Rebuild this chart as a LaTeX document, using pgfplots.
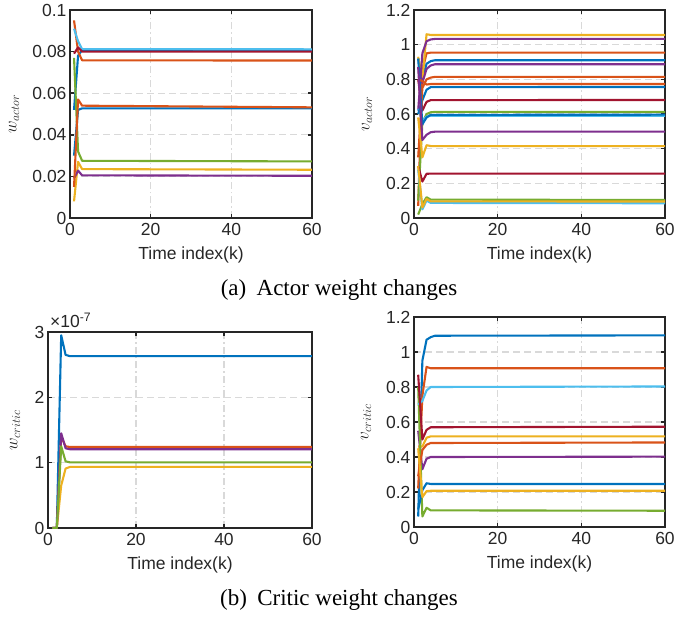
\documentclass[border=0pt]{standalone}
\usepackage{pgfplots}
\pgfplotsset{compat=1.18}
\usepackage{fontspec}
\setmainfont{Liberation Serif}
\newfontfamily\helv{Liberation Sans}

\definecolor{mblue}{rgb}{0,0.447,0.741}
\definecolor{morange}{rgb}{0.85,0.325,0.098}
\definecolor{myellow}{rgb}{0.929,0.694,0.125}
\definecolor{mpurple}{rgb}{0.494,0.184,0.556}
\definecolor{mgreen}{rgb}{0.466,0.674,0.188}
\definecolor{mcyan}{rgb}{0.301,0.745,0.933}
\definecolor{mred}{rgb}{0.635,0.078,0.184}
\definecolor{axgray}{rgb}{0.15,0.15,0.15}

\pgfplotsset{
  mat/.style={
    scale only axis, anchor=south west,
    xmin=0, xmax=60, ymin=0, xtick={0,20,40,60},
    axis line style={axgray, line width=2.4pt},
    tick align=inside, major tick length=4pt,
    tick style={axgray, line width=1.5pt},
    grid=major,
    major grid style={gray!30, line width=1.3pt},
    y grid style={dash pattern=on 7pt off 4pt},
    x grid style={dash pattern=on 7pt off 3pt on 1.5pt off 3pt},
    ticklabel style={font=\helv\fontsize{17.5}{17.5}\selectfont, text=axgray},
    xticklabel style={yshift=-2pt},
    /pgf/number format/assume math mode=true,
    yticklabel style={/pgf/number format/fixed, /pgf/number format/precision=2},
    scaled y ticks=false,
    xlabel={\helv Time index(k)},
    xlabel style={font=\fontsize{17.5}{17.5}\selectfont, text=axgray,
      at={(rel axis cs:0.5,0)}, anchor=north, yshift=-25pt},
    ylabel style={font=\fontsize{17}{17}\selectfont, text=axgray,
      at={(rel axis cs:0,0.5)}, anchor=center},
    every axis plot/.append style={line width=2.1pt, line join=round},
  }
}

\begin{document}
\begin{tikzpicture}
\useasboundingbox (0,0) rectangle (674pt,616pt);

% (a) left: w_actor
\begin{axis}[mat, at={(70pt,398pt)}, width=242pt, height=208pt,
    ymax=0.1, ytick={0,0.02,0.04,0.06,0.08,0.1}, ylabel={$w_{actor}$},
    ylabel style={yshift=56pt}]
\addplot[mblue]   coordinates {(1,0.052)(2,0.078)(3,0.0808)(60,0.0808)};
\addplot[morange] coordinates {(1,0.095)(2,0.080)(3,0.0758)(60,0.0757)};
\addplot[myellow] coordinates {(1,0.008)(2,0.027)(3,0.0235)(60,0.0232)};
\addplot[mpurple] coordinates {(1,0.019)(2,0.0228)(3,0.0205)(60,0.0203)};
\addplot[mgreen]  coordinates {(1,0.077)(2,0.032)(3,0.0275)(60,0.0272)};
\addplot[mcyan]   coordinates {(1,0.091)(2,0.085)(3,0.0812)(60,0.0811)};
\addplot[mred]    coordinates {(1,0.079)(2,0.082)(3,0.080)(60,0.080)};
\addplot[mblue]   coordinates {(1,0.030)(2,0.052)(3,0.0527)(60,0.0527)};
\addplot[morange] coordinates {(1,0.015)(2,0.057)(3,0.054)(60,0.0532)};
\end{axis}

% (a) right: v_actor
\begin{axis}[mat, at={(414pt,398pt)}, width=251pt, height=208pt,
    ymax=1.2, ytick={0,0.2,0.4,0.6,0.8,1,1.2}, ylabel={$v_{actor}$},
    ylabel style={yshift=47pt}]
\addplot[mblue]   coordinates {(1,0.92)(2,0.80)(3,0.89)(4,0.905)(5,0.91)(60,0.91)};
\addplot[morange] coordinates {(1,0.07)(2,0.85)(3,0.95)(4,0.954)(60,0.954)};
\addplot[myellow] coordinates {(1,0.93)(2,0.80)(3,1.06)(4,1.056)(60,1.056)};
\addplot[mpurple] coordinates {(1,0.62)(2,0.95)(3,1.02)(4,1.03)(5,1.033)(60,1.033)};
\addplot[mgreen]  coordinates {(1,0.10)(2,0.55)(3,0.60)(4,0.61)(5,0.612)(60,0.612)};
\addplot[mcyan]   coordinates {(1,0.63)(2,0.56)(3,0.585)(4,0.59)(60,0.59)};
\addplot[mred]    coordinates {(1,0.80)(2,0.62)(3,0.67)(4,0.68)(60,0.681)};
\addplot[mblue]   coordinates {(1,0.60)(2,0.68)(3,0.74)(4,0.755)(60,0.756)};
\addplot[morange] coordinates {(1,0.35)(2,0.75)(3,0.80)(4,0.81)(5,0.814)(60,0.814)};
\addplot[myellow] coordinates {(1,0.58)(2,0.35)(3,0.42)(4,0.415)(60,0.415)};
\addplot[mpurple] coordinates {(1,0.87)(2,0.78)(3,0.86)(4,0.88)(5,0.887)(60,0.887)};
\addplot[mgreen]  coordinates {(1,0.02)(2,0.08)(3,0.12)(4,0.106)(60,0.104)};
\addplot[mcyan]   coordinates {(1,0.28)(2,0.05)(3,0.10)(4,0.087)(60,0.085)};
\addplot[mred]    coordinates {(1,0.30)(2,0.21)(3,0.255)(4,0.256)(60,0.256)};
\addplot[mblue]   coordinates {(1,0.92)(2,0.54)(3,0.58)(4,0.595)(60,0.596)};
\addplot[morange] coordinates {(1,0.80)(2,0.79)(3,0.77)(4,0.773)(60,0.773)};
\addplot[myellow] coordinates {(1,0.30)(2,0.06)(3,0.11)(4,0.096)(60,0.095)};
\addplot[mpurple] coordinates {(1,0.87)(2,0.45)(3,0.48)(4,0.495)(5,0.498)(60,0.498)};
\end{axis}

\node[font=\fontsize{23}{23}\selectfont] at (339pt,326pt) {(a)\hspace{0.45em}Actor weight changes};

% (b) left: w_critic
\begin{axis}[mat, at={(48pt,88pt)}, width=264pt, height=196pt,
    ymax=3e-7, ytick={0,1e-7,2e-7,3e-7}, ylabel={$w_{critic}$},
    ylabel style={yshift=33pt},
    scaled y ticks=base 10:7,
    ytick scale label code/.code={\helv ×10\textsuperscript{#1}},
    every y tick scale label/.style={at={(rel axis cs:0,1)}, anchor=south west,
      inner sep=0pt, xshift=2pt, yshift=4pt, font=\fontsize{17.5}{17.5}\selectfont, text=axgray}]
\addplot[mblue]   coordinates {(1,0)(2,0)(3,2.95e-7)(4,2.65e-7)(5,2.63e-7)(60,2.63e-7)};
\addplot[morange] coordinates {(1,0)(2,0)(3,1.40e-7)(4,1.25e-7)(5,1.24e-7)(60,1.24e-7)};
\addplot[myellow] coordinates {(1,0)(2,0)(3,0.65e-7)(4,0.91e-7)(5,0.935e-7)(60,0.935e-7)};
\addplot[mpurple] coordinates {(1,0)(2,0)(3,1.45e-7)(4,1.22e-7)(5,1.205e-7)(60,1.205e-7)};
\addplot[mgreen]  coordinates {(1,0)(2,0)(3,1.25e-7)(4,1.02e-7)(5,1.005e-7)(60,1.005e-7)};
\end{axis}

% (b) right: v_critic
\begin{axis}[mat, at={(414pt,89pt)}, width=251pt, height=210pt,
    ymax=1.2, ytick={0,0.2,0.4,0.6,0.8,1,1.2}, ylabel={$v_{critic}$},
    ylabel style={yshift=48pt}]
\addplot[mblue]   coordinates {(1,0.06)(2,0.95)(3,1.07)(4,1.085)(5,1.093)(60,1.095)};
\addplot[morange] coordinates {(1,0.22)(2,0.75)(3,0.915)(4,0.907)(60,0.907)};
\addplot[myellow] coordinates {(1,0.46)(2,0.46)(3,0.51)(4,0.518)(60,0.518)};
\addplot[mpurple] coordinates {(1,0.55)(2,0.33)(3,0.39)(4,0.40)(60,0.402)};
\addplot[mgreen]  coordinates {(1,0.80)(2,0.06)(3,0.11)(4,0.095)(60,0.093)};
\addplot[mcyan]   coordinates {(1,0.70)(2,0.72)(3,0.78)(4,0.80)(60,0.803)};
\addplot[mred]    coordinates {(1,0.87)(2,0.50)(3,0.555)(4,0.57)(60,0.573)};
\addplot[mblue]   coordinates {(1,0.10)(2,0.21)(3,0.25)(4,0.246)(60,0.246)};
\addplot[morange] coordinates {(1,0.29)(2,0.44)(3,0.47)(4,0.48)(60,0.483)};
\addplot[myellow] coordinates {(1,0.45)(2,0.17)(3,0.205)(4,0.207)(60,0.207)};
\end{axis}

\node[font=\fontsize{23}{23}\selectfont] at (339pt,16pt) {(b)\hspace{0.45em}Critic weight changes};
\end{tikzpicture}
\end{document}
